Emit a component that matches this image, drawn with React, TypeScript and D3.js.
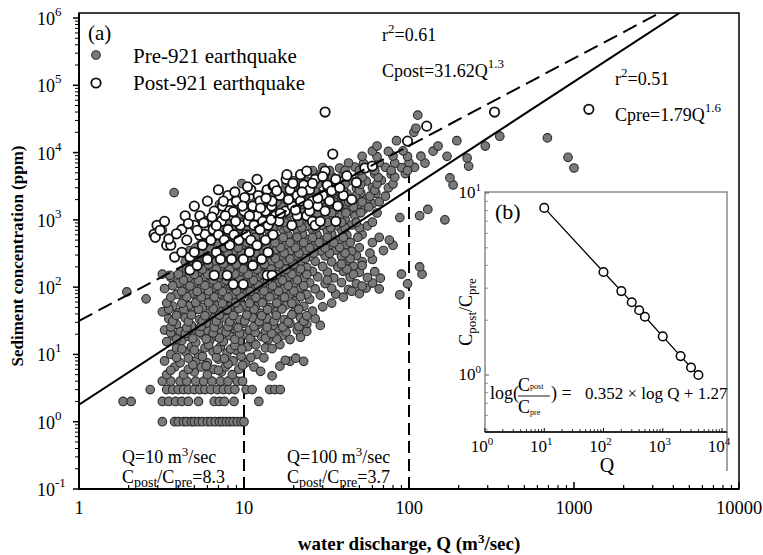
import React from 'react';
import * as d3 from 'd3';

// ---------- DATA ----------
// Pre-921 earthquake: [water discharge Q (m3/s), sediment concentration C (ppm)]
const prePoints: [number, number][] = [
  [3.2,1],[3.8,1],[4.0,1],[4.3,1],[4.5,1],[4.8,1],[5.0,1],[5.3,1],[5.6,1],[6.0,1],[6.3,1],[6.7,1],[7.1,1],[7.4,1],[7.8,1],[8.2,1],[8.6,1],[9.1,1],[9.6,1],[10,1],
  [1.85,2],[2.07,2],[3.2,2],[3.5,2],[3.85,2],[4.2,2],[4.6,2],[5.3,2],[6.6,2],[7.1,2],[7.6,2],[8.7,2],[12.3,2],
  [2.7,3],[3.4,3],[3.7,3],[4.0,3],[4.3,3],[4.6,3],[5.0,3],[5.4,3],[5.8,3],[6.3,3],[6.9,3],[7.5,3],[8.1,3],[8.8,3],[10.3,3],[11.2,3],[14.3,3],[15.4,3],[16.6,3],
  [3.2,4],[3.6,4],[4.1,4],[4.5,4],[5.1,4],[5.7,4],[6.4,4],[7.2,4],[8.0,4],[9.1,4],[9.8,4],
  [3.4,5],[4.3,5],[5.0,5.5],[6.0,5],[7.3,5.5],[8.5,5],[14.8,4.8],[3.8,6.5],[4.6,6],[5.5,6.5],[6.6,6],[7.7,6.5],[9.3,6],[11.5,6.5],
  [3.3,8],[4.1,7.5],[5.1,8],[6.0,7.5],[7.0,8.5],[8.6,8],[10.2,7.5],[16.5,6.7],[19,7.9],[20.6,8.8],[23,7.9],[17.8,8.2],
  [3.6,10],[4.4,11],[5.3,10],[6.5,11],[7.9,10.5],[9.0,11.5],[12.0,10],[3.9,12.5],[4.8,13],[5.8,12.5],[7.2,13],[8.3,12],[10.5,13],[13.5,12.5],
  [3.4,15.5],[4.2,16],[5.1,15],[6.2,16],[7.5,15.5],[9.4,16],[11.4,15],[14.0,16.5],[3.7,19],[4.6,18.5],[5.6,19.5],[6.8,18.5],[8.2,19],[10.0,20],[12.8,18.5],[17.0,19],
  [3.3,23],[4.1,22],[5.0,24],[6.0,23],[7.3,22.5],[8.8,24],[10.8,23],[13.5,22],[16.0,24],[21,23],[3.9,28],[4.8,27],[5.9,29],[7.0,28],[8.4,27],[9.9,29],[12.2,28],[15.0,27],[19.0,29],[24,28],[29,27],
  [3.5,34],[4.4,35],[5.4,33],[6.5,35],[7.8,34],[9.4,33],[11.3,35],[13.8,34],[17.5,33],[22,35],[27,34],[3.2,43],[4.0,42],[4.9,44],[6.0,41],[7.2,43],[8.7,42],[10.6,44],[12.6,41],[15.5,43],[20,42],[26,44],
  [3.7,52],[4.6,53],[5.6,50],[6.8,54],[8.2,51],[9.8,53],[11.7,52],[14.2,50],[18,54],[23,52],[30,51],[2.55,67],[4.3,64],[5.2,66],[6.3,63],[7.6,65],[9.1,64],[11,62],[13.2,66],[16.5,64],[20.5,63],[25,66],
  [3.9,78],[4.8,80],[5.9,77],[7.0,79],[8.5,76],[10.2,80],[12.5,78],[15.3,77],[19,80],[24,78],[29,76],[36,79],[50,80],[88,77],[1.95,85],[3.3,95],[4.5,97],[5.5,94],[6.5,98],[7.9,95],[9.5,96],[11.6,93],[14.2,97],[17.5,95],[22,98],[27,94],[34,96],[43,92],[55,97],[66,94],
  [4.0,115],[5.0,118],[6.1,113],[7.3,116],[8.8,112],[10.6,117],[13,114],[16,118],[20,112],[25,116],[31,113],[39,117],[48,112],[60,115],[98,112],[3.6,140],[4.6,138],[5.7,142],[6.9,137],[8.3,141],[10,139],[12.1,143],[14.8,136],[18.3,140],[23,138],[28,142],[35,137],[44,141],[56,139],[67,136],[3.2,156],[3.55,150],[90,156],[120,156],[116,200],
  [4.2,170],[5.3,168],[6.4,172],[7.8,167],[9.4,171],[11.4,166],[13.8,173],[17,169],[21,165],[26,171],[32,168],[40,172],[50,166],[62,170],[4.8,200],[5.9,205],[7.2,198],[8.7,203],[10.5,197],[12.8,204],[15.6,199],[19.2,202],[24,196],[30,203],[37,199],[46,205],
  [4.4,240],[5.5,245],[6.7,238],[8.1,243],[9.9,236],[12,244],[14.6,239],[18,246],[22,237],[27,242],[34,238],[42,245],[52,240],[60,258],[52,210],[5.1,290],[6.2,295],[7.6,287],[9.2,293],[11.2,285],[13.6,296],[16.7,289],[20.5,294],[25,286],[31,292],[39,288],[48,295],
  [4.7,350],[5.8,345],[7.0,355],[8.6,342],[10.4,352],[12.7,347],[15.4,356],[19,344],[23.5,351],[29,346],[36,355],[45,343],[70,350],[5.4,420],[6.6,428],[8.0,415],[9.7,425],[11.8,412],[14.4,430],[17.6,418],[21.5,426],[26.5,413],[33,422],[41,417],[80,420],
  [6.1,500],[7.4,510],[9.0,490],[11,505],[13.4,495],[16.3,512],[20,488],[24.5,508],[30,497],[38,503],[76,500],[5.6,600],[6.9,610],[8.4,590],[10.2,615],[12.4,595],[15.1,605],[18.5,588],[22.6,612],[27.7,598],[34,607],[42,592],[52,603],
  [3.2,700],[7.8,690],[9.6,715],[11.7,700],[14.2,685],[17.3,710],[21,695],[26,705],[32,688],[39,712],[6.4,820],[8.9,830],[10.8,810],[13.2,840],[16,815],[19.6,835],[24,808],[29.5,828],[36,818],[45,838],[56,812],
  [7.3,1000],[10.1,980],[12.3,1020],[15,990],[18.2,1010],[22.3,975],[27.2,1030],[33,995],[41,1015],[88,1080],[165,1000],[9.3,1150],[11.4,1170],[14,1130],[17,1180],[20.8,1140],[25.5,1160],[31,1125],[38,1175],[47,1145],[116,1150],
  [8.6,1400],[12.9,1380],[15.8,1420],[19.4,1370],[23.7,1430],[29,1390],[35.5,1410],[43,1360],[53,1440],[130,1430],[7.1,1690],[11,1720],[14.6,1680],[18,1740],[22,1660],[27,1710],[33,1750],[40,1670],[49,1700],[60,1730],
  [12,2000],[16.6,2050],[20.4,1960],[25,2080],[30.5,1980],[37,2040],[46,1990],[56,2060],[13.5,2500],[18.8,2450],[23,2550],[28,2480],[34.5,2530],[42,2460],[51,2520],[63,2490],
  [15.6,3000],[21.3,2950],[26,3080],[32,2980],[39,3050],[48,2960],[60,3020],[75,2990],[185,3300],[9.7,3460],[3.77,2540],[177,4200],
  [20,3800],[24,3750],[29.5,3850],[36,3780],[44,3820],[55,3760],[68,3880],[27,4800],[33,4750],[40,4850],[50,4780],[62,4820],[78,4760],[95,4880],
  [1000,5900],[30,6000],[38,5900],[47,6100],[58,5950],[72,6050],[90,5980],[108,6020],[230,6300],[43,7000],[53,6900],[66,7100],[82,6950],[100,7050],[125,6980],[225,8300],[920,8500],[170,8800],[52,8800],[64,8700],[80,8900],[98,8750],[118,8850],
  [60,10500],[75,10400],[92,10600],[140,10500],[64,12500],[150,12500],[290,12500],[84,15000],[195,15000],[690,16500],[355,17500],[107,20000],[110,23000],[113,36000],
  // denser core
  [3.6,5.8],[4.9,7],[5.9,6.8],[7.0,5.8],[8.0,7.2],[9.8,6.9],[12.6,5.6],
  [3.9,9],[4.6,8.8],[5.6,9.3],[6.8,9.1],[7.6,8.7],[9.6,9.4],[11,9],[13.2,8.9],
  [4.2,12],[5.0,11.6],[6.1,13.8],[6.9,11.8],[8.8,13.6],[9.7,12],[11.8,13.9],[14.8,12.2],[16.5,14],
  [3.9,17],[4.9,17.3],[5.9,16.9],[7.1,17.5],[8.8,16.8],[10.9,17.2],[13.5,17.4],[15.8,17],[19,16.6],[22,18],
  [3.6,21],[4.4,20.5],[5.4,21.3],[6.5,20.8],[7.8,21.5],[9.4,20.7],[11.7,21.2],[14.7,20.4],[18,21.6],[24,22],
  [3.6,25.5],[4.5,25],[5.5,26],[6.6,25.2],[8.0,25.8],[9.2,25],[11.5,26],[13.8,25.4],[17.2,25.6],[21.5,26],
  [3.7,31],[4.6,30.5],[5.6,31.5],[6.8,31],[8.2,30.6],[10.1,31.4],[12.4,30.8],[15.2,31.2],[18.5,30.4],[23,31],
  [3.9,38],[4.8,38.5],[5.8,37.6],[7.1,38.4],[8.6,37.8],[10.4,38.6],[12.8,37.5],[15.7,38.2],[19.5,38.8],[24,37.5],
  [3.5,47],[4.3,47.5],[5.3,46.8],[6.5,47.6],[7.9,46.5],[9.3,47.8],[11.5,47],[13.9,46.6],[17,47.4],[21.5,47],
  [3.4,58],[4.2,57.5],[5.1,59],[6.1,58.5],[7.4,57.8],[8.9,58.4],[10.8,57.6],[12.9,58.8],[15.8,58],[19.5,57.4],[34,58],
  [3.6,71],[4.5,72],[5.5,70.5],[6.6,71.5],[8.0,70.6],[9.6,71.8],[11.8,70.4],[14.3,71.6],[17.6,70.8],[22,72],[40,71],
  [4.2,87],[5.2,86],[6.1,88],[7.4,86.5],[9.0,87.5],[10.9,86.2],[13.2,88],[16.2,86.7],[20,87.4],[45,87],
  [3.7,105],[4.7,104],[5.8,106],[6.9,104.5],[8.3,105.8],[10,104.2],[12.2,106.5],[14.9,104.8],[18.5,106],[23,104.5],[52,104],
  [4.3,127],[5.3,126],[6.5,128],[7.8,126.5],[9.4,128.5],[11.4,126.2],[13.9,128],[17.1,126.8],[21,128],[32,127.5],
  [4.0,155],[5.0,154],[6.0,156],[7.3,153.5],[8.8,156.5],[10.6,154],[12.9,156],[15.8,153.8],[19.5,156],[24,154.5],[46,156],
  [4.5,185],[5.6,184],[6.8,186],[8.2,183.5],[9.9,186.5],[12,184],[14.6,186],[18,184.5],[22,186],[42,185],
  [5.0,220],[6.1,218],[7.5,222],[9.0,219],[11,221],[13.3,218.5],[16.3,221.5],[20,219],[39,221],
  [4.7,265],[5.8,262],[7.1,267],[8.6,263],[10.4,266],[12.7,262.5],[15.5,267],[19,263],[23.5,266],[44,264],
  [5.4,320],[6.6,318],[8.0,322],[9.7,319],[11.8,321],[14.3,318.5],[17.5,322],[21.5,319],[26.5,321],[33,318],[41,322],[58,320],
  [5.1,385],[6.2,383],[7.6,387],[9.2,384],[11.2,386],[13.6,383.5],[16.7,387],[20.5,384],[25,386],[31,383],[38,387],[50,385],
  [5.8,460],[7.0,458],[8.6,462],[10.4,459],[12.7,461],[15.4,458.5],[19,462],[23,459],[28.5,461],[35,458],[44,462],[60,460],
  [6.5,550],[7.9,548],[9.6,552],[11.7,549],[14.2,551],[17.3,548.5],[21,552],[26,549],[32,551],[40,548],[49,552],[66,550],
  [7.2,760],[8.4,758],[10.2,762],[12.4,759],[15,761],[18.3,758],[22.4,762],[27.3,759],[33.5,761],[41,758],[50,762],
  [8.1,920],[9.7,915],[11.8,925],[14.4,918],[17.6,922],[21.5,916],[26.2,924],[32,919],[39,921],[48,917],[60,923],
  [10.2,1270],[12.5,1260],[15.3,1280],[18.7,1265],[22.8,1275],[27.9,1262],[34,1278],[41.5,1268],[51,1272],[64,1265],
  [10,1550],[13.9,1540],[17,1560],[20.8,1545],[25.5,1555],[31,1542],[38,1558],[46,1548],[57,1552],
  [13,1850],[15.8,1840],[19.3,1860],[23.6,1845],[28.8,1855],[35,1842],[43,1858],[52,1848],[66,1852],
  [14.8,2250],[17.6,2240],[21.5,2260],[26.2,2245],[32,2255],[39,2242],[47.5,2258],[58,2248],[72,2252],
  [17.5,2750],[22,2740],[27,2760],[33,2745],[40,2755],[50,2742],[62,2758],
  [18,3400],[23,3390],[28,3410],[34,3395],[41,3405],[51,3392],[64,3408],[80,3400],
  [22,4300],[28,4290],[34.5,4310],[42,4295],[52,4305],[65,4292],[82,4308],
  [26,5400],[33,5390],[41,5410],[50,5395],[62,5405],[78,5392],[98,5408],
];

// Post-921 earthquake
const postPoints: [number, number][] = [
  [2.97,830],[2.85,610],[2.9,550],[3.3,950],[3.4,420],[3.6,420],[3.8,280],[4.2,330],[4.2,720],[4.4,1150],[4.5,500],[4.7,280],[4.7,180],[5.0,330],[5.0,830],[5.0,1600],[5.2,210],[5.4,590],[5.4,1150],[5.6,420],[5.8,610],
  [6.0,260],[6.0,950],[6.0,1900],[6.3,500],[6.5,720],[6.6,150],[6.6,1350],[6.8,330],[7.0,600],[7.0,2800],[7.2,260],[7.3,950],[7.4,1600],[7.6,500],[7.9,150],[8.0,720],[8.0,2300],[8.2,420],[8.2,1370],[8.4,260],[8.5,1150],[8.6,110],[8.6,1320],[8.7,600],[9.0,1900],[9.3,500],[9.5,830],[9.9,110],[9.9,260],
  [10.0,1350],[10.1,2150],[10.3,600],[10.6,950],[10.8,330],[11,500],[11,2800],[11.3,210],[11.3,1600],[11.5,830],[12,420],[12,1150],[12,4000],[12.2,2300],[12.5,720],[12.5,1900],[12.8,260],[13,950],[13.5,500],[13.5,1350],[13.8,150],[13.8,2800],[14,330],[14,830],[14.7,1600],[14.8,150],[14.8,1900],[15,600],[15,3200],[15.2,3300],[15.5,1150],
  [16.3,950],[16.5,2300],[17.8,1350],[18,4000],[18.2,4700],[19,2800],[19.5,830],[19.6,1600],[21,1150],[21,2300],[22,1900],[22,4700],[23,3300],[24,1150],[24,5300],[25,1350],[25,2800],[26,950],[26,1900],[27,830],[27,4000],[28,1600],[29,950],[30,2300],[31,1350],[31,5300],[32,3300],[33,1900],[34.5,9500],[36,950],[36,4000],[37,1600],[40,2300],
  [54,5900],[60,6300],[98,14800],[128,24700],[31,40000],[330,40000],[1230,44000],
  [3.1,700],[3.5,520],[3.9,620],[4.6,880],[5.2,700],[5.7,900],[6.4,1100],[6.8,820],[7.7,1150],[8.9,950],[9.8,1600],
  [10.8,1150],[12.6,1500],[13.6,2100],[14.6,1000],[15.8,2700],[16.6,1250],[18.6,2000],[19.8,3500],[20.5,1400],[22.5,2600],[24.5,1700],
  [26,3500],[28,2100],[30,4400],[34,2700],[38,3000],[42,4500],[45,2000],[48,3600],[7.5,1900],[8.8,2600],[10.5,3100],
];

// Inset (b): Cpost/Cpre ratio versus Q
const ratioQ = [10, 100, 200, 300, 400, 500, 1000, 2000, 3000, 4000];
const ratioVal = [8.28, 3.68, 2.89, 2.51, 2.27, 2.09, 1.63, 1.27, 1.10, 1.00];

// Regression fits
const preFit = { a: 1.79, b: 1.6 };
const postFit = { a: 31.62, b: 1.3 };
const fitQ = [1, 10000];

const xTicks = [1, 10, 100, 1000, 10000];
const yExps = [-1, 0, 1, 2, 3, 4, 5, 6];
const insetXExps = [0, 1, 2, 3, 4];
const insetYExps = [0, 1];
const markQ = [10, 100];

const serif = '"Liberation Serif", "Times New Roman", serif';

export default function App() {
  const x = d3.scaleLog().domain([1, 10000]).range([79, 739]);
  const y = d3.scaleLog().domain([0.1, 1e6]).range([489, 18]);
  const yTop = 13;

  const ix = d3.scaleLog().domain([1, 1e4]).range([485, 722]);
  const iy = d3.scaleLog().domain([1, 10]).range([375, 193]);

  const minorX: number[] = [];
  for (let d = 1; d < 10000; d *= 10) for (let k = 2; k <= 9; k++) minorX.push(d * k);
  const minorY: number[] = [];
  for (let d = 0.1; d < 1e6; d *= 10) for (let k = 2; k <= 9; k++) minorY.push(d * k);
  const iMinorX: number[] = [];
  for (let d = 1; d < 1e4; d *= 10) for (let k = 2; k <= 9; k++) iMinorX.push(d * k);
  const iMinorY: number[] = [];
  for (const d of [0.1, 1]) for (let k = 2; k <= 9; k++) if (d * k >= 0.5) iMinorY.push(d * k);

  const fitLine = (f: { a: number; b: number }) =>
    d3.line<number>().x((q) => x(q)).y((q) => y(f.a * Math.pow(q, f.b)))(fitQ) || '';

  const ratioLine = d3
    .line<number>()
    .x((_, i) => ix(ratioQ[i]))
    .y((_, i) => iy(ratioVal[i]))(ratioQ) || '';

  const X0 = x(1), X1 = x(10000), Y0 = y(0.1);

  return (
    <svg width={763} height={555} style={{ position: 'absolute', left: 0, top: 0, background: '#fff' }} fontFamily={serif}>
      <defs>
        <clipPath id="plot">
          <rect x={X0} y={yTop} width={X1 - X0} height={Y0 - yTop} />
        </clipPath>
      </defs>
      <rect x={0} y={0} width={763} height={555} fill="#fff" />

      {/* scatter */}
      <g clipPath="url(#plot)">
        {markQ.map((q) => (
          <line key={q} x1={x(q)} x2={x(q)} y1={Y0} y2={y(postFit.a * Math.pow(q, postFit.b))} stroke="#000" strokeWidth={2} strokeDasharray="12,6" />
        ))}
        {prePoints.map((p, i) => (
          <circle key={'a' + i} cx={x(p[0])} cy={y(p[1])} r={4.3} fill="#7a7a7a" stroke="#2a2a2a" strokeWidth={1.1} />
        ))}
        {postPoints.map((p, i) => (
          <circle key={'b' + i} cx={x(p[0])} cy={y(p[1])} r={4.7} fill="#fff" stroke="#111" strokeWidth={1.8} />
        ))}
        <path d={fitLine(preFit)} fill="none" stroke="#000" strokeWidth={2} />
        <path d={fitLine(postFit)} fill="none" stroke="#000" strokeWidth={2} strokeDasharray="15,7" />
      </g>

      {/* frame */}
      <rect x={X0} y={yTop} width={X1 - X0} height={Y0 - yTop} fill="none" stroke="#000" strokeWidth={1.5} />
      <line x1={X0} x2={X1} y1={Y0} y2={Y0} stroke="#000" strokeWidth={2} />
      <line x1={X0} x2={X0} y1={yTop} y2={Y0} stroke="#000" strokeWidth={2} />

      {/* x ticks */}
      {xTicks.map((t) => (
        <g key={'xt' + t}>
          <line x1={x(t)} x2={x(t)} y1={Y0} y2={Y0 - 7} stroke="#000" strokeWidth={1.5} />
          <text x={x(t)} y={514} fontSize={18.5} textAnchor="middle">{t}</text>
        </g>
      ))}
      {minorX.map((t) => (
        <line key={'xm' + t} x1={x(t)} x2={x(t)} y1={Y0} y2={Y0 - 4} stroke="#000" strokeWidth={1.2} />
      ))}

      {/* y ticks */}
      {yExps.map((e) => (
        <g key={'yt' + e}>
          <line x1={X0} x2={X0 - 6} y1={y(Math.pow(10, e))} y2={y(Math.pow(10, e))} stroke="#000" strokeWidth={1.5} />
          <text x={37} y={y(Math.pow(10, e)) + 7} fontSize={18}>
            10<tspan fontSize={13} dy={-9}>{e}</tspan>
          </text>
        </g>
      ))}
      {minorY.map((t, i) => (
        <line key={'ym' + i} x1={X0} x2={X0 - 4} y1={y(t)} y2={y(t)} stroke="#000" strokeWidth={1} />
      ))}

      {/* axis titles */}
      <text x={409} y={550} fontSize={19} fontWeight="bold" textAnchor="middle">
        water discharge, Q (m<tspan fontSize={13} dy={-7}>3</tspan><tspan dy={7}>/sec)</tspan>
      </text>
      <text transform="translate(23,256) rotate(-90)" fontSize={17} fontWeight="bold" textAnchor="middle">
        Sediment concentration (ppm)
      </text>

      {/* panel label + legend */}
      <text x={88} y={40} fontSize={21}>(a)</text>
      <circle cx={96} cy={55} r={4.3} fill="#7a7a7a" stroke="#2a2a2a" strokeWidth={1.1} />
      <text x={133} y={63} fontSize={21}>Pre-921 earthquake</text>
      <circle cx={96} cy={83} r={4.7} fill="#fff" stroke="#111" strokeWidth={1.8} />
      <text x={133} y={90} fontSize={21}>Post-921 earthquake</text>

      {/* equations */}
      <text x={382} y={41} fontSize={18}>
        r<tspan fontSize={13} dy={-8}>2</tspan><tspan dy={8}>=0.61</tspan>
      </text>
      <text x={382} y={77} fontSize={18}>
        Cpost=31.62Q<tspan fontSize={13} dy={-9}>1.3</tspan>
      </text>
      <text x={615} y={85} fontSize={18}>
        r<tspan fontSize={13} dy={-8}>2</tspan><tspan dy={8}>=0.51</tspan>
      </text>
      <text x={615} y={121} fontSize={18}>
        Cpre=1.79Q<tspan fontSize={13} dy={-9}>1.6</tspan>
      </text>

      {/* Q annotations */}
      {[{ x0: 122, q: '10', r: '8.3' }, { x0: 287, q: '100', r: '3.7' }].map((a) => (
        <g key={a.q}>
          <text x={a.x0} y={463} fontSize={18}>
            Q={a.q} m<tspan fontSize={13} dy={-7}>3</tspan><tspan dy={7}>/sec</tspan>
          </text>
          <text x={a.x0} y={483} fontSize={18}>
            C<tspan fontSize={14} dy={4}>post</tspan><tspan dy={-4}>/C</tspan><tspan fontSize={14} dy={4}>pre</tspan><tspan dy={-4}>={a.r}</tspan>
          </text>
        </g>
      ))}

      {/* inset (b) */}
      <rect x={485} y={192} width={242} height={240} fill="#fff" stroke="#8a8a8a" strokeWidth={1.5} />
      <line x1={727} x2={727} y1={432} y2={471} stroke="#666" strokeWidth={1.2} />
      <line x1={485} x2={727} y1={432} y2={432} stroke="#000" strokeWidth={1.5} />
      {insetXExps.map((e) => (
        <g key={'ixt' + e}>
          <line x1={ix(Math.pow(10, e))} x2={ix(Math.pow(10, e))} y1={432} y2={428} stroke="#000" strokeWidth={1} />
          <text x={ix(Math.pow(10, e)) - 3} y={452} fontSize={17} textAnchor="middle">
            10<tspan fontSize={11} dy={-7}>{e}</tspan>
          </text>
        </g>
      ))}
      {iMinorX.map((t) => (
        <line key={'ixm' + t} x1={ix(t)} x2={ix(t)} y1={432} y2={429} stroke="#000" strokeWidth={0.8} />
      ))}
      {insetYExps.map((e) => (
        <g key={'iyt' + e}>
          <line x1={485} x2={489} y1={iy(Math.pow(10, e))} y2={iy(Math.pow(10, e))} stroke="#555" strokeWidth={1} />
          <text x={481} y={iy(Math.pow(10, e)) + 5} fontSize={17} textAnchor="end">
            10<tspan fontSize={11} dy={-7}>{e}</tspan>
          </text>
        </g>
      ))}
      {iMinorY.map((t, i) => (
        <line key={'iym' + i} x1={485} x2={488} y1={iy(t)} y2={iy(t)} stroke="#777" strokeWidth={0.8} />
      ))}
      <text x={607} y={472} fontSize={20} textAnchor="middle">Q</text>
      <text transform="translate(472,312) rotate(-90)" fontSize={18} textAnchor="middle">
        C<tspan fontSize={13} dy={4}>post</tspan><tspan dy={-4}>/C</tspan><tspan fontSize={13} dy={4}>pre</tspan>
      </text>
      <text x={495} y={219} fontSize={22}>(b)</text>
      <path d={ratioLine} fill="none" stroke="#000" strokeWidth={1.3} />
      {ratioQ.map((q, i) => (
        <circle key={'r' + q} cx={ix(q)} cy={iy(ratioVal[i])} r={4.3} fill="#fff" stroke="#000" strokeWidth={1.5} />
      ))}
      {/* formula */}
      <text x={490} y={399} fontSize={18}>log(</text>
      <text x={518} y={391} fontSize={18}>C<tspan fontSize={8} dy={-2}>post</tspan></text>
      <line x1={518} x2={550} y1={396} y2={396} stroke="#000" strokeWidth={0.9} />
      <text x={518} y={413} fontSize={18}>C<tspan fontSize={8} dy={2}>pre</tspan></text>
      <text x={551} y={399} fontSize={18}>) =</text>
      <text x={585} y={399} fontSize={17}>0.352 × log Q + 1.27</text>
    </svg>
  );
}
